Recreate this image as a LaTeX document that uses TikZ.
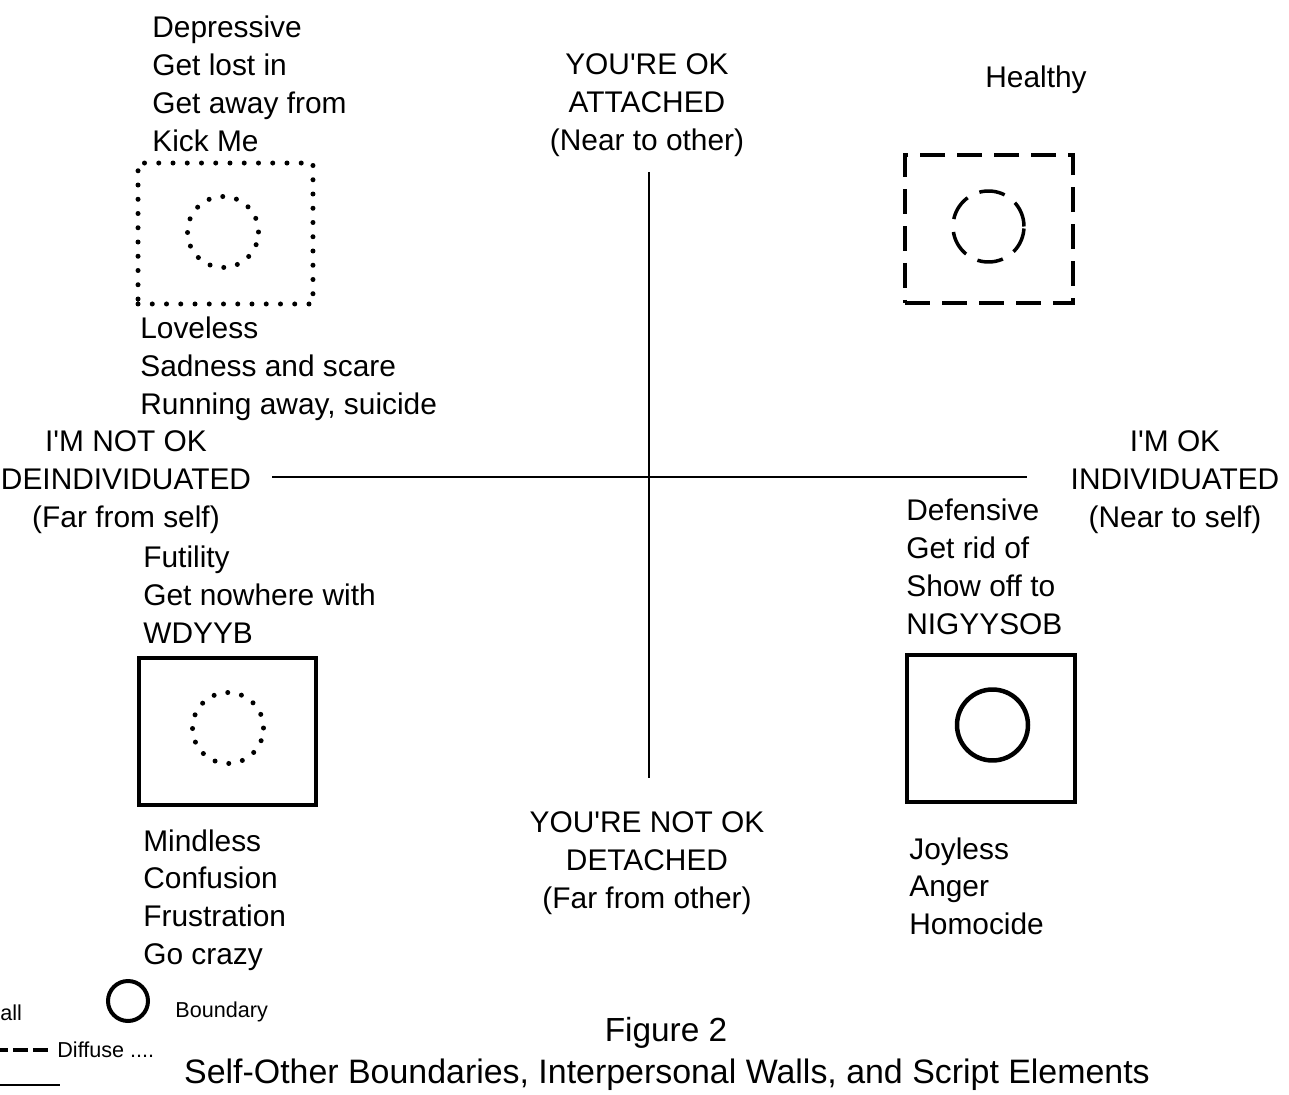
\documentclass[tikz,border=0pt]{standalone}
\usepackage{fontspec}
\setmainfont{Liberation Sans}
\usetikzlibrary{positioning}

\begin{document}
\begin{tikzpicture}[x=0.02cm, y=-0.02cm]
    % Text styles
    \tikzstyle{label} = [inner sep=0pt, font=\fontsize{17}{21.6}\selectfont]
    \tikzstyle{script} = [label, align=left, anchor=north west]
    \tikzstyle{axislabel} = [label, align=center, anchor=north]
    \tikzstyle{legend} = [inner sep=0pt, anchor=west, font=\fontsize{12.3}{14}\selectfont]
    % Wall and boundary styles
    \tikzstyle{wall} = [rectangle, draw, line width=0.065cm]
    \tikzstyle{wall_dotted} = [wall, line width=0.1cm, line cap=round, dash pattern=on 0pt off 0.285cm]
    \tikzstyle{wall_dashed} = [wall, line width=0.075cm, dash pattern=on 0.5cm off 0.24cm]
    \tikzstyle{boundary} = [circle, draw, line width=0.09cm, minimum size=1.42cm, inner sep=0pt]
    \tikzstyle{boundary_dotted} = [boundary, line width=0.1cm, line cap=round, dash pattern=on 0pt off 0.28cm]
    \tikzstyle{boundary_dashed} = [boundary, line width=0.07cm, dash pattern=on 0.52cm off 0.26cm]

    \useasboundingbox (0,0) rectangle (1289,1095);

    % Axes
    \coordinate (ytop) at (649,172);
    \coordinate (ybot) at (649,778);
    \coordinate (xleft) at (272,477);
    \coordinate (xright) at (1027,477);
    \draw[line width=0.04cm] (ytop) -- (ybot);
    \draw[line width=0.04cm] (xleft) -- (xright);

    \node[axislabel] (attached) at (647,53) {YOU\textquotesingle RE OK\\ATTACHED\\(Near to other)};
    \node[axislabel] (detached) at (647,811) {YOU\textquotesingle RE NOT OK\\DETACHED\\(Far from other)};
    \node[axislabel] (deind) at (126,430) {I\textquotesingle M NOT OK\\DEINDIVIDUATED\\(Far from self)};
    \node[axislabel] (ind) at (1175,430) {I\textquotesingle M OK\\INDIVIDUATED\\(Near to self)};

    % Upper left: depressive
    \node[script] (depressive) at (152,16) {Depressive\\Get lost in\\Get away from\\Kick Me};
    \node[wall_dotted, minimum width=3.5cm, minimum height=2.82cm] (wall_ul) at (225.5,233.5) {};
    \node[boundary_dotted] (self_ul) at (223,232) {};
    \node[script] (loveless) at (140,317) {Loveless\\Sadness and scare\\Running away, suicide};

    % Upper right: healthy
    \node[label] (healthy) at (1036,80) {Healthy};
    \node[wall_dashed, minimum width=3.36cm, minimum height=2.96cm] (wall_ur) at (989,229) {};
    \node[boundary_dashed] (self_ur) at (988.5,226.5) {};

    % Lower left: futility
    \node[script] (futility) at (143,546) {Futility\\Get nowhere with\\WDYYB};
    \node[wall, minimum width=3.54cm, minimum height=2.94cm] (wall_ll) at (227.5,731.5) {};
    \node[boundary_dotted] (self_ll) at (228,728) {};
    \node[script] (mindless) at (143,829) {Mindless\\Confusion\\Frustration\\Go crazy};

    % Lower right: defensive
    \node[script] (defensive) at (906,499) {Defensive\\Get rid of\\Show off to\\NIGYYSOB};
    \node[wall, minimum width=3.36cm, minimum height=2.94cm] (wall_lr) at (991,728.5) {};
    \node[boundary] (self_lr) at (992.5,725) {};
    \node[script] (joyless) at (909,837) {Joyless\\Anger\\Homocide};

    % Legend
    \node[boundary, minimum size=0.8cm, line width=0.08cm] (key_boundary) at (128,1001) {};
    \node[legend] (key_boundary_text) at (175,1012) {Boundary};
    \node[legend] (key_wall_text) at (0,1013) {all};
    \coordinate (key_diffuse) at (0,1050);
    \coordinate (key_diffuse_end) at (52,1050);
    \draw[line width=0.065cm, dash pattern=on 0.3cm off 0.1cm, dash phase=0.14cm] (key_diffuse) -- (key_diffuse_end);
    \node[legend] (key_diffuse_text) at (57,1050) {Diffuse ....};
    \coordinate (key_solid) at (0,1085);
    \coordinate (key_solid_end) at (60,1085);
    \draw[line width=0.05cm] (key_solid) -- (key_solid_end);

    % Caption
    \node[inner sep=0pt, font=\fontsize{19}{22}\selectfont] (figure) at (666,1033) {Figure 2};
    \node[inner sep=0pt, font=\fontsize{19.3}{22}\selectfont] (caption) at (667,1075) {Self-Other Boundaries, Interpersonal Walls, and Script Elements};
\end{tikzpicture}
\end{document}
